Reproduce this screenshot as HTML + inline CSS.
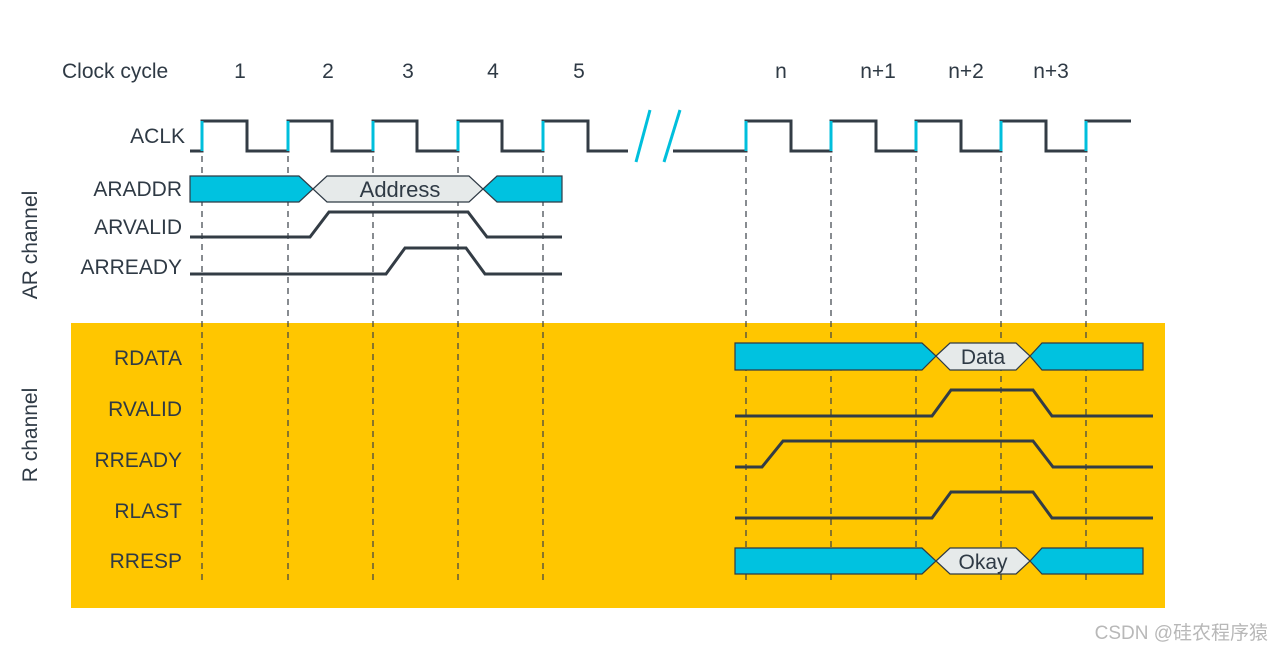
<!DOCTYPE html>
<html><head><meta charset="utf-8"><style>
html,body{margin:0;padding:0;background:#fff;width:1274px;height:652px;overflow:hidden}
text{font-family:"Liberation Sans",sans-serif;fill:#2f3a45}
</style></head><body>
<svg width="1274" height="652" viewBox="0 0 1274 652" xmlns="http://www.w3.org/2000/svg">
<rect x="71" y="323" width="1094" height="285" fill="#FFC600"/>
<g stroke="#3a4048" stroke-width="1.2" stroke-dasharray="6,5">
<line x1="202" y1="156" x2="202" y2="580"/><line x1="288" y1="156" x2="288" y2="580"/>
<line x1="373" y1="156" x2="373" y2="580"/><line x1="458" y1="156" x2="458" y2="580"/>
<line x1="543" y1="156" x2="543" y2="580"/>
<line x1="746" y1="156" x2="746" y2="580"/><line x1="831" y1="156" x2="831" y2="580"/>
<line x1="916" y1="156" x2="916" y2="580"/><line x1="1001" y1="156" x2="1001" y2="580"/>
<line x1="1086" y1="156" x2="1086" y2="580"/>
</g>
<g font-size="21">
<text x="62" y="78">Clock cycle</text>
<text x="240" y="78" text-anchor="middle">1</text><text x="328" y="78" text-anchor="middle">2</text>
<text x="408" y="78" text-anchor="middle">3</text><text x="493" y="78" text-anchor="middle">4</text>
<text x="579" y="78" text-anchor="middle">5</text><text x="781" y="78" text-anchor="middle">n</text>
<text x="878" y="78" text-anchor="middle">n+1</text><text x="966" y="78" text-anchor="middle">n+2</text>
<text x="1051" y="78" text-anchor="middle">n+3</text>
</g>
<g font-size="21" text-anchor="end">
<text x="185" y="143">ACLK</text>
<text x="182" y="196">ARADDR</text>
<text x="182" y="234">ARVALID</text>
<text x="182" y="274">ARREADY</text>
<text x="182" y="365">RDATA</text>
<text x="182" y="416">RVALID</text>
<text x="182" y="467">RREADY</text>
<text x="182" y="518">RLAST</text>
<text x="182" y="568">RRESP</text>
</g>
<text font-size="21" transform="translate(37,245) rotate(-90)" text-anchor="middle">AR channel</text>
<text font-size="21" transform="translate(37,435) rotate(-90)" text-anchor="middle">R channel</text>
<g fill="none" stroke="#333c45" stroke-width="3">
<path d="M190 151H202V121H247V151H288V121H332V151H373V121H417V151H458V121H502V151H543V121H588V151H628"/>
<path d="M673 151H746V121H791V151H831V121H876V151H916V121H961V151H1001V121H1046V151H1086V121H1131"/>
<path d="M190 237H310L329 212H468L487 237H562"/>
<path d="M190 274H386L405 248H466L485 274H562"/>
<path d="M735 416H932L951 390H1033L1052 416H1153"/>
<path d="M735 467H762L783 441H1033L1053 467H1153"/>
<path d="M735 518H932L951 492H1033L1052 518H1153"/>
</g>
<g stroke="#00bfdc" stroke-width="3">
<line x1="202" y1="121" x2="202" y2="151"/><line x1="288" y1="121" x2="288" y2="151"/>
<line x1="373" y1="121" x2="373" y2="151"/><line x1="458" y1="121" x2="458" y2="151"/>
<line x1="543" y1="121" x2="543" y2="151"/><line x1="746" y1="121" x2="746" y2="151"/>
<line x1="831" y1="121" x2="831" y2="151"/><line x1="916" y1="121" x2="916" y2="151"/>
<line x1="1001" y1="121" x2="1001" y2="151"/><line x1="1086" y1="121" x2="1086" y2="151"/>
<line x1="650" y1="110" x2="636" y2="162"/><line x1="680" y1="110" x2="664" y2="162"/>
</g>
<g stroke="#2f3a45" stroke-width="1.2">
<path d="M190 176H299L313 189L299 202H190Z" fill="#00c2e0"/>
<path d="M313 189L327 176H469L483 189L469 202H327Z" fill="#e6eaea"/>
<path d="M483 189L497 176H562V202H497Z" fill="#00c2e0"/>
<path d="M735 343H922L936 356L922 370H735Z" fill="#00c2e0"/>
<path d="M936 356L950 343H1016L1030 356L1016 370H950Z" fill="#e6eaea"/>
<path d="M1030 356L1042 343H1143V370H1042Z" fill="#00c2e0"/>
<path d="M735 548H922L936 561L922 574H735Z" fill="#00c2e0"/>
<path d="M936 561L950 548H1016L1030 561L1016 574H950Z" fill="#e6eaea"/>
<path d="M1030 561L1042 548H1143V574H1042Z" fill="#00c2e0"/>
</g>
<text x="400" y="197" font-size="22" text-anchor="middle">Address</text>
<text x="983" y="364" font-size="21" text-anchor="middle">Data</text>
<text x="983" y="569" font-size="21" text-anchor="middle">Okay</text>
<text x="1268" y="639" font-size="19" text-anchor="end" style="fill:#b8b8b8;font-family:'Liberation Sans','Noto Sans CJK SC',sans-serif">CSDN @硅农程序猿</text>
</svg>
</body></html>
